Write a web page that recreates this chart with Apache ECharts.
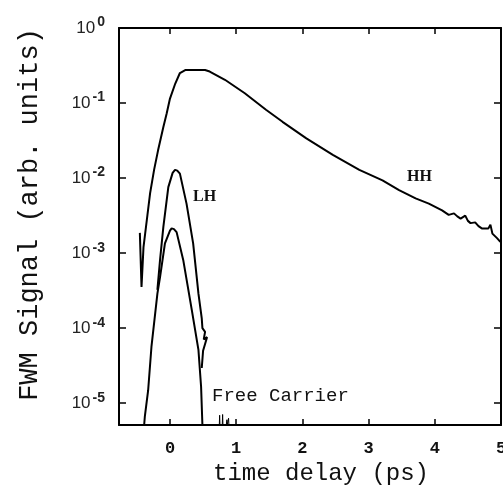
<!DOCTYPE html>
<html>
<head>
<meta charset="utf-8">
<script src="https://cdn.jsdelivr.net/npm/echarts@6/dist/echarts.min.js"></script>
<style>
html,body{margin:0;padding:0;background:#fff;}
#c{width:503px;height:485px;}
</style>
</head>
<body>
<div id="c"></div>
<script>
// Values are log10 of FWM signal (arb. units)
const xTickValues = [0, 1, 2, 3, 4, 5];
const xTopTickValues = [0, 1, 2, 3, 4];
const yTickExponents = [-5, -4, -3, -2, -1, 0];
const yRightTickExponents = [-5, -4, -3, -2, -1];

// HH curve (time delay in ps, log10 signal)
const hhX = [-0.455, -0.43, -0.40, -0.35, -0.30, -0.24, -0.18, -0.10, -0.05, 0.00, 0.08, 0.15, 0.23, 0.38, 0.53, 0.60, 0.83, 1.13, 1.45, 1.70, 2.06, 2.46, 2.86, 3.21, 3.46, 3.71, 3.91, 4.11, 4.21, 4.29, 4.34, 4.39, 4.46, 4.50, 4.54, 4.61, 4.66, 4.71, 4.81, 4.84, 4.87, 4.94, 4.99];
const hhLog = [-2.73, -3.45, -2.92, -2.56, -2.20, -1.89, -1.63, -1.32, -1.14, -0.94, -0.74, -0.60, -0.56, -0.56, -0.56, -0.58, -0.69, -0.87, -1.09, -1.25, -1.47, -1.69, -1.89, -2.03, -2.16, -2.27, -2.34, -2.43, -2.49, -2.47, -2.51, -2.54, -2.50, -2.57, -2.60, -2.59, -2.64, -2.67, -2.67, -2.62, -2.74, -2.80, -2.85];

// LH curve
const lhX = [-0.19, -0.15, -0.10, -0.025, 0.04, 0.076, 0.11, 0.15, 0.25, 0.35, 0.43, 0.44, 0.48, 0.49, 0.53, 0.51, 0.56, 0.50, 0.48];
const lhLog = [-3.49, -3.09, -2.65, -2.12, -1.93, -1.89, -1.90, -1.94, -2.34, -2.87, -3.54, -3.56, -3.87, -4.00, -4.05, -4.15, -4.12, -4.30, -4.53];

// Free carrier curve (shares the falling left branch)
const fcX = [-0.39, -0.38, -0.33, -0.28, -0.19, -0.15, -0.076, 0.00, 0.025, 0.06, 0.10, 0.20, 0.33, 0.43, 0.47, 0.49];
const fcLog = [-5.29, -5.18, -4.83, -4.25, -3.54, -3.32, -2.87, -2.70, -2.67, -2.68, -2.72, -3.09, -3.76, -4.29, -4.78, -5.29];

// Free carrier noise spikes near the baseline
const fcNoiseX = [0.70, 0.745, 0.75, 0.755, 0.79, 0.795, 0.80, 0.805, 0.85, 0.86, 0.865, 0.87, 0.88, 0.885, 0.89, 0.895, 0.95];
const fcNoiseLog = [-5.29, -5.29, -5.16, -5.29, -5.29, -5.15, -5.29, -5.29, -5.29, -5.22, -5.29, -5.29, -5.29, -5.20, -5.29, -5.29, -5.29];

const zip = (xs, ys) => xs.map((x, i) => [x, ys[i]]);

const chart = echarts.init(document.getElementById('c'), null, {renderer: 'canvas'});
const lineStyle = {color: '#000', width: 2};
const mono = '"Liberation Mono", "DejaVu Sans Mono", monospace';
const sans = '"Liberation Sans", Arial, sans-serif';
const axisLine = {show: true, onZero: false, lineStyle: {color: '#000', width: 2}};

chart.setOption({
  animation: false,
  backgroundColor: '#fff',
  grid: {left: 119, right: 2, top: 28, bottom: 60, containLabel: false, outerBoundsMode: 'none'},
  xAxis: [
    {
      type: 'value', min: -0.77, max: 5, position: 'bottom',
      axisLine: axisLine,
      axisTick: {inside: true, length: 6, customValues: xTickValues, lineStyle: {color: '#000', width: 1.5}},
      axisLabel: {customValues: xTickValues, color: '#111', fontFamily: mono, fontSize: 17, fontWeight: 'bold', margin: 15},
      splitLine: {show: false},
      name: 'time delay (ps)', nameLocation: 'middle', nameGap: 31,
      nameTextStyle: {fontFamily: mono, fontSize: 24, color: '#111', padding: [0, 0, 0, 22]}
    },
    {
      type: 'value', min: -0.77, max: 5, position: 'top',
      axisLine: axisLine,
      axisTick: {inside: true, length: 6, customValues: xTopTickValues, lineStyle: {color: '#000', width: 1.5}},
      axisLabel: {show: false},
      splitLine: {show: false}
    }
  ],
  yAxis: [
    {
      type: 'value', min: -5.29, max: 0, position: 'left',
      axisLine: axisLine,
      axisTick: {inside: true, length: 7, customValues: yTickExponents, lineStyle: {color: '#000', width: 1.5}},
      axisLabel: {
        customValues: yTickExponents, margin: 14,
        formatter: v => '{b|10}{s|' + (v === 0 ? '0' : String(v)) + '}',
        rich: {
          b: {fontFamily: sans, fontSize: 17, color: '#222'},
          s: {fontFamily: sans, fontSize: 14, fontWeight: 'bold', color: '#222', padding: [0, 0, 11, 2]}
        }
      },
      splitLine: {show: false},
      name: 'FWM Signal (arb. units)', nameLocation: 'middle', nameGap: 76,
      nameTextStyle: {fontFamily: mono, fontSize: 27, color: '#111', padding: [0, 0, 0, 24]}
    },
    {
      type: 'value', min: -5.29, max: 0, position: 'right',
      axisLine: axisLine,
      axisTick: {inside: true, length: 7, customValues: yRightTickExponents, lineStyle: {color: '#000', width: 1.5}},
      axisLabel: {show: false},
      splitLine: {show: false}
    }
  ],
  series: [
    {name: 'HH', type: 'line', data: zip(hhX, hhLog), symbol: 'none', lineStyle: lineStyle, xAxisIndex: 0, yAxisIndex: 0},
    {name: 'LH', type: 'line', data: zip(lhX, lhLog), symbol: 'none', lineStyle: lineStyle, xAxisIndex: 0, yAxisIndex: 0},
    {name: 'Free Carrier', type: 'line', data: zip(fcX, fcLog), symbol: 'none', lineStyle: lineStyle, xAxisIndex: 0, yAxisIndex: 0},
    {name: 'Free Carrier noise', type: 'line', data: zip(fcNoiseX, fcNoiseLog), symbol: 'none', lineStyle: {color: '#000', width: 1}, xAxisIndex: 0, yAxisIndex: 0}
  ],
  graphic: [
    {type: 'text', left: 193, top: 189, style: {text: 'LH', font: 'bold 16px "Liberation Serif", serif', fill: '#111'}},
    {type: 'text', left: 407, top: 169, style: {text: 'HH', font: 'bold 16px "Liberation Serif", serif', fill: '#111'}},
    {type: 'text', left: 212, top: 386, style: {text: 'Free Carrier', font: '19px ' + mono, fill: '#111'}}
  ]
});
</script>
</body>
</html>
